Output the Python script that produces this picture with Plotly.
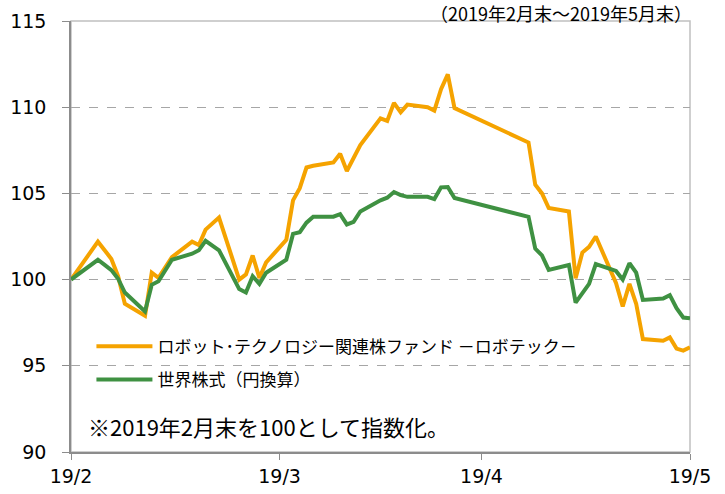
import plotly.graph_objects as go

dates = [
    "2019-02-28",
    "2019-03-01", "2019-03-04", "2019-03-05", "2019-03-06", "2019-03-07", "2019-03-08",
    "2019-03-11", "2019-03-12", "2019-03-13", "2019-03-14", "2019-03-15",
    "2019-03-18", "2019-03-19", "2019-03-20", "2019-03-22",
    "2019-03-25", "2019-03-26", "2019-03-27", "2019-03-28", "2019-03-29",
    "2019-04-01", "2019-04-02", "2019-04-03", "2019-04-04", "2019-04-05",
    "2019-04-08", "2019-04-09", "2019-04-10", "2019-04-11", "2019-04-12",
    "2019-04-15", "2019-04-16", "2019-04-17", "2019-04-18", "2019-04-19",
    "2019-04-22", "2019-04-23", "2019-04-24", "2019-04-25", "2019-04-26",
    "2019-05-07", "2019-05-08", "2019-05-09", "2019-05-10",
    "2019-05-13", "2019-05-14", "2019-05-15", "2019-05-16", "2019-05-17",
    "2019-05-20", "2019-05-21", "2019-05-22", "2019-05-23", "2019-05-24",
    "2019-05-27", "2019-05-28", "2019-05-29", "2019-05-30", "2019-05-31",
]

robotech = [
    100.0,
    100.55, 102.2, 101.7, 101.2, 100.2, 98.6,
    97.9, 100.4, 100.1, 100.7, 101.3,
    102.2, 102.0, 102.9, 103.6,
    100.0, 100.3, 101.4, 100.1, 101.0,
    102.3, 104.6, 105.3, 106.5, 106.6,
    106.8, 107.3, 106.3, 107.05, 107.8,
    109.35, 109.2, 110.25, 109.7, 110.15,
    110.0, 109.8, 111.05, 111.9, 109.95,
    107.95, 105.5, 105.0, 104.15,
    103.95, 100.08, 101.57, 101.9, 102.5,
    99.8, 98.45, 99.75, 98.6, 96.55,
    96.45, 96.65, 96.0, 95.88, 96.07,
]

world = [
    100.0,
    100.3, 101.15, 100.85, 100.55, 100.05, 99.25,
    98.15, 99.7, 99.9, 100.5, 101.15,
    101.5, 101.7, 102.25, 101.7,
    99.45, 99.25, 100.2, 99.75, 100.4,
    101.15, 102.65, 102.75, 103.3, 103.65,
    103.65, 103.8, 103.2, 103.35, 103.95,
    104.6, 104.75, 105.08, 104.9, 104.8,
    104.8, 104.67, 105.35, 105.37, 104.73,
    103.64, 101.8, 101.4, 100.56,
    100.85, 98.66, 99.24, 99.75, 100.9,
    100.5, 100.0, 100.95, 100.4, 98.82,
    98.9, 99.1, 98.34, 97.8, 97.76,
]

series_names = ["ロボット･テクノロジー関連株ファンド －ロボテック－", "世界株式（円換算）"]
tick_vals = ["2019-02-28", "2019-03-31", "2019-04-30", "2019-05-31"]
tick_text = ["19/2", "19/3", "19/4", "19/5"]
title_text = "（2019年2月末～2019年5月末）"
note_text = "※2019年2月末を100として指数化。"

ORANGE = "#F5A300"
GREEN = "#3F9142"
JP_FONT = "Noto Sans CJK JP, sans-serif"
NUM_FONT = "DejaVu Sans, Verdana, sans-serif"

fig = go.Figure()
fig.add_trace(go.Scatter(x=dates, y=robotech, mode="lines", name=series_names[0],
                         line=dict(color=ORANGE, width=4), legendgroup="a"))
fig.add_trace(go.Scatter(x=dates, y=world, mode="lines", name=series_names[1],
                         line=dict(color=GREEN, width=4), legendgroup="b"))

fig.update_layout(
    width=725, height=494,
    margin=dict(l=71, r=35, t=21, b=42),
    paper_bgcolor="white", plot_bgcolor="white",
    showlegend=True,
    legend=dict(x=0.033, y=0.286, xanchor="left", yanchor="top",
                bgcolor="rgba(0,0,0,0)", font=dict(family=JP_FONT, size=17, color="#000"),
                traceorder="grouped", tracegroupgap=8, itemwidth=56),
    xaxis=dict(type="date", range=["2019-02-28", "2019-05-31"], automargin=False,
               tickmode="array", tickvals=tick_vals, ticktext=tick_text,
               showgrid=False, showline=True, linecolor="#8c8c8c", linewidth=1.5,
               ticks="outside", ticklen=6, tickcolor="#8c8c8c",
               tickfont=dict(family=NUM_FONT, size=19, color="#000"), zeroline=False),
    yaxis=dict(range=[90, 115], dtick=5, tick0=90, automargin=False,
               showgrid=True, gridcolor="#a6a6a6", griddash="dash", gridwidth=1,
               showline=True, linecolor="#8c8c8c", linewidth=1.5,
               ticks="outside", ticklen=7, tickcolor="#8c8c8c", ticklabelstandoff=12,
               tickfont=dict(family=NUM_FONT, size=19, color="#000"), zeroline=False),
    shapes=[dict(type="rect", xref="paper", yref="paper", x0=0, x1=1, y0=0, y1=1,
                 line=dict(color="#c0c0c0", width=1.5), layer="below")],
    annotations=[
        dict(text=title_text, xref="paper", yref="paper", x=1.005, y=1, xanchor="right",
             yanchor="top", yshift=22, borderpad=0, showarrow=False,
             font=dict(family=JP_FONT, size=18, color="#000")),
        dict(text=note_text, xref="paper", yref="paper", x=0.025, y=0.06, xanchor="left",
             yanchor="middle", showarrow=False,
             font=dict(family=JP_FONT, size=22, color="#000")),
    ],
)

fig.write_html("out.html", config={"displayModeBar": False},
               post_script="document.body.style.margin='0';")
